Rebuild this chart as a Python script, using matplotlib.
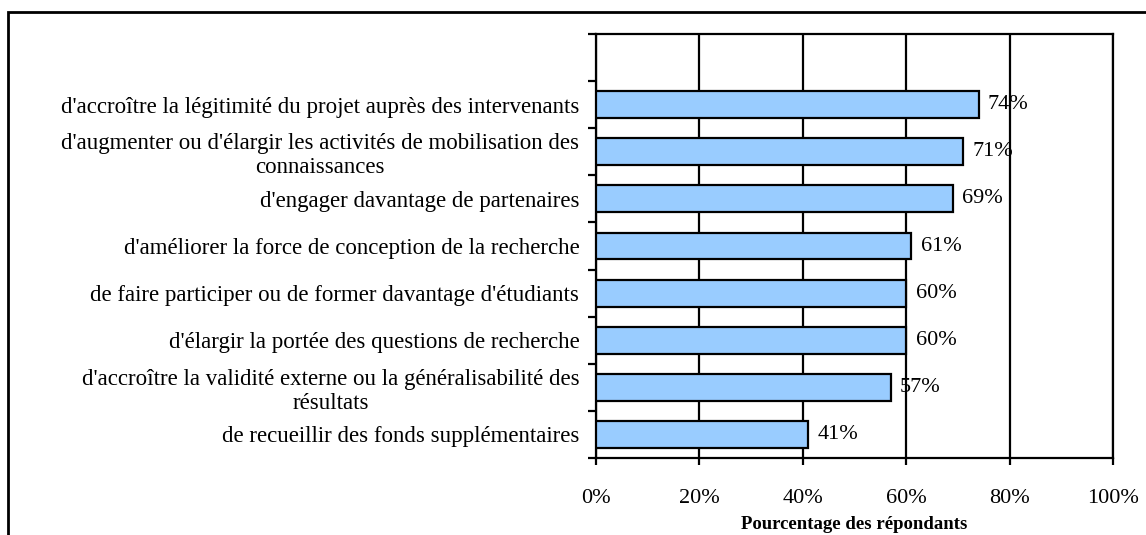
import matplotlib
matplotlib.use("Agg")
import numpy as np
import matplotlib.pyplot as plt
from matplotlib.patches import Rectangle

# ── data (bottom -> top) ──────────────────────────────────────────────────────
categories = [
    "de recueillir des fonds supplémentaires",
    "d'accroître la validité externe ou la généralisabilité des\nrésultats",
    "d'élargir la portée des questions de recherche",
    "de faire participer ou de former davantage d'étudiants",
    "d'améliorer la force de conception de la recherche",
    "d'engager davantage de partenaires",
    "d'augmenter ou d'élargir les activités de mobilisation des\nconnaissances",
    "d'accroître la légitimité du projet auprès des intervenants",
]
values = [41, 57, 60, 60, 61, 69, 71, 74]
x_ticks = [0, 20, 40, 60, 80, 100]
x_label = "Pourcentage des répondants"

BAR_COLOR = "#99CCFF"
plt.rcParams["font.family"] = ["Liberation Serif", "DejaVu Serif"]
FS = 16

fig = plt.figure(figsize=(11.46, 5.35), dpi=100)
ax = fig.add_axes([596 / 1146, 1 - 458 / 535, 517 / 1146, 424 / 535])

y = np.arange(len(categories))
ax.barh(y, values, height=0.57, color=BAR_COLOR, edgecolor="black", linewidth=1.6, zorder=3)
for yi, v in zip(y, values):
    ax.text(v + 1.8, yi, f"{v}%", va="center", ha="left", fontsize=FS, zorder=4)

ax.set_xlim(0, 100)
ax.set_ylim(-0.5, len(categories) + 0.5)   # one empty slot at the top
ax.set_xticks(x_ticks)
ax.set_xticklabels([f"{t}%" for t in x_ticks], fontsize=FS)
ax.xaxis.grid(True, color="black", lw=1.6, zorder=1)
ax.set_axisbelow(True)

# boundaries as major ticks, labels at category centres via minor ticks
ax.set_yticks(np.arange(-0.5, len(categories) + 1, 1.0))
ax.set_yticklabels([])
ax.set_yticks(y, minor=True)
ax.set_yticklabels(categories, minor=True, fontsize=16.5, multialignment="center",
                   linespacing=1.2)
ax.tick_params(axis="y", which="major", length=6, width=1.6, direction="out")
ax.tick_params(axis="y", which="minor", length=0, pad=12)
ax.tick_params(axis="x", length=5, width=1.6, direction="out", pad=17)

for sp in ax.spines.values():
    sp.set_linewidth(1.6)

ax.set_xlabel(x_label, fontsize=13.5, fontweight="bold", labelpad=6)

# outer chart frame (extends past the right and bottom edges)
fig.patches.append(Rectangle((8 / 1146, -0.1), 1.2, 1 - 12 / 535 + 0.1,
                             transform=fig.transFigure, fill=False,
                             edgecolor="black", linewidth=2, clip_on=False))

fig.savefig("out.png", dpi=100)
